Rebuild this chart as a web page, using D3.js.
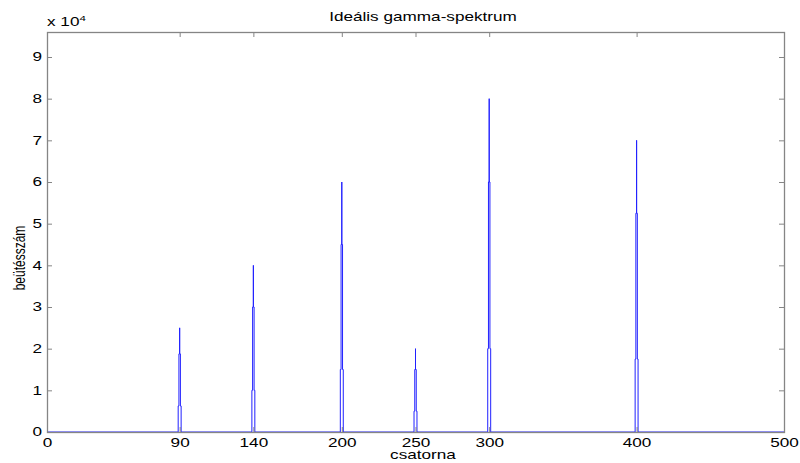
<!DOCTYPE html>
<html>
<head>
<meta charset="utf-8">
<script src="https://cdn.jsdelivr.net/npm/d3@7"></script>
<style>
  html, body { margin: 0; padding: 0; background: #fff; }
  svg { display: block; }
  text { font-family: "Liberation Sans", Arial, sans-serif; fill: #000; }
</style>
</head>
<body>
<svg id="chart" width="800" height="463"></svg>
<script>
// Spectrum trace as (channel, counts) vertices: each line is drawn as a stepped
// profile at 1/4, 3/4 and full height around its channel.
const spectrumChannels = [
  0,
  89, 89, 89.5, 89.5, 90, 90, 90, 90.5, 90.5, 91, 91,
  139, 139, 139.5, 139.5, 140, 140, 140, 140.5, 140.5, 141, 141,
  199, 199, 199.5, 199.5, 200, 200, 200, 200.5, 200.5, 201, 201,
  249, 249, 249.5, 249.5, 250, 250, 250, 250.5, 250.5, 251, 251,
  299, 299, 299.5, 299.5, 300, 300, 300, 300.5, 300.5, 301, 301,
  399, 399, 399.5, 399.5, 400, 400, 400, 400.5, 400.5, 401, 401,
  500
];
const spectrumCounts = [
  0,
  0, 6250, 6250, 18750, 18750, 25000, 18750, 18750, 6250, 6250, 0,
  0, 10000, 10000, 30000, 30000, 40000, 30000, 30000, 10000, 10000, 0,
  0, 15000, 15000, 45000, 45000, 60000, 45000, 45000, 15000, 15000, 0,
  0, 5000, 5000, 15000, 15000, 20000, 15000, 15000, 5000, 5000, 0,
  0, 20000, 20000, 60000, 60000, 80000, 60000, 60000, 20000, 20000, 0,
  0, 17500, 17500, 52500, 52500, 70000, 52500, 52500, 17500, 17500, 0,
  0
];

const xTicks = [0, 90, 140, 200, 250, 300, 400, 500];
const yTicks = [0, 10000, 20000, 30000, 40000, 50000, 60000, 70000, 80000, 90000];
const yTickLabels = ["0", "1", "2", "3", "4", "5", "6", "7", "8", "9"];

const titleText = "Ideális gamma-spektrum";
const xLabelText = "csatorna";
const yLabelText = "beütésszám";

// Layout
const plotLeft = 47, plotRight = 784, plotTop = 32, plotBottom = 432;
const stretch = 1.43;   // wide glyph proportions of the figure's text
const axisColor = "#858585";

const svg = d3.select("#chart");

const x = d3.scaleLinear().domain([0, 500]).range([plotLeft, plotRight]);
const y = d3.scaleLinear().domain([0, 96000]).range([plotBottom, plotTop]);

// Clip so the trace stays in the axes box
svg.append("defs").append("clipPath").attr("id", "plotClip")
  .append("rect").attr("x", plotLeft).attr("y", plotTop)
  .attr("width", plotRight - plotLeft).attr("height", plotBottom - plotTop);

// Spectrum trace
const points = spectrumChannels.map((c, i) => [c, spectrumCounts[i]]);
svg.append("path")
  .datum(points)
  .attr("clip-path", "url(#plotClip)")
  .attr("fill", "none")
  .attr("stroke", "#2020ff")
  .attr("stroke-width", 1)
  .attr("d", d3.line().x(d => x(d[0])).y(d => y(d[1])));

// Axes (ticks pointing inward, box on all four sides)
const gBottom = svg.append("g").attr("transform", `translate(0,${plotBottom})`)
  .call(d3.axisBottom(x).tickValues(xTicks).tickSizeInner(-5).tickSizeOuter(0)
    .tickPadding(6).tickFormat(d3.format("d")));
const gTop = svg.append("g").attr("transform", `translate(0,${plotTop})`)
  .call(d3.axisTop(x).tickValues(xTicks).tickSizeInner(-5).tickSizeOuter(0)
    .tickFormat(""));
const gLeft = svg.append("g").attr("transform", `translate(${plotLeft},0)`)
  .call(d3.axisLeft(y).tickValues(yTicks).tickSizeInner(-5).tickSizeOuter(0)
    .tickPadding(4).tickFormat((d, i) => yTickLabels[i]));
const gRight = svg.append("g").attr("transform", `translate(${plotRight},0)`)
  .call(d3.axisRight(y).tickValues(yTicks).tickSizeInner(-5).tickSizeOuter(0)
    .tickFormat(""));

[gBottom, gTop, gLeft, gRight].forEach(g => {
  g.select(".domain").remove();
  g.selectAll(".tick line").attr("stroke", axisColor);
  g.selectAll("text")
    .attr("font-size", 12)
    .attr("font-family", "Liberation Sans, Arial, sans-serif")
    .attr("fill", "#000");
});
gBottom.selectAll("text").attr("transform", `scale(${stretch},1)`);
gLeft.selectAll("text").attr("x", -5 / stretch).attr("transform", `scale(${stretch},1)`);

// Axes box
svg.append("rect")
  .attr("x", plotLeft + 0.5).attr("y", plotTop + 0.5)
  .attr("width", plotRight - plotLeft).attr("height", plotBottom - plotTop)
  .attr("fill", "none").attr("stroke", axisColor).attr("stroke-width", 1.3);

// Exponent marker
const expo = svg.append("text")
  .attr("transform", `translate(${plotLeft},26) scale(${stretch},1)`)
  .attr("font-size", 12);
expo.append("tspan").text("x 10");
expo.append("tspan").attr("font-size", 8).attr("dy", -5).text("4");

// Title
svg.append("text")
  .attr("transform", `translate(423,21) scale(${stretch},1)`)
  .attr("text-anchor", "middle").attr("font-size", 12)
  .text(titleText);

// X label
svg.append("text")
  .attr("transform", `translate(423,459) scale(${stretch},1)`)
  .attr("text-anchor", "middle").attr("font-size", 12)
  .text(xLabelText);

// Y label
svg.append("text")
  .attr("transform", `translate(25,258) rotate(-90) scale(1,${stretch})`)
  .attr("text-anchor", "middle").attr("font-size", 12)
  .text(yLabelText);
</script>
</body>
</html>
